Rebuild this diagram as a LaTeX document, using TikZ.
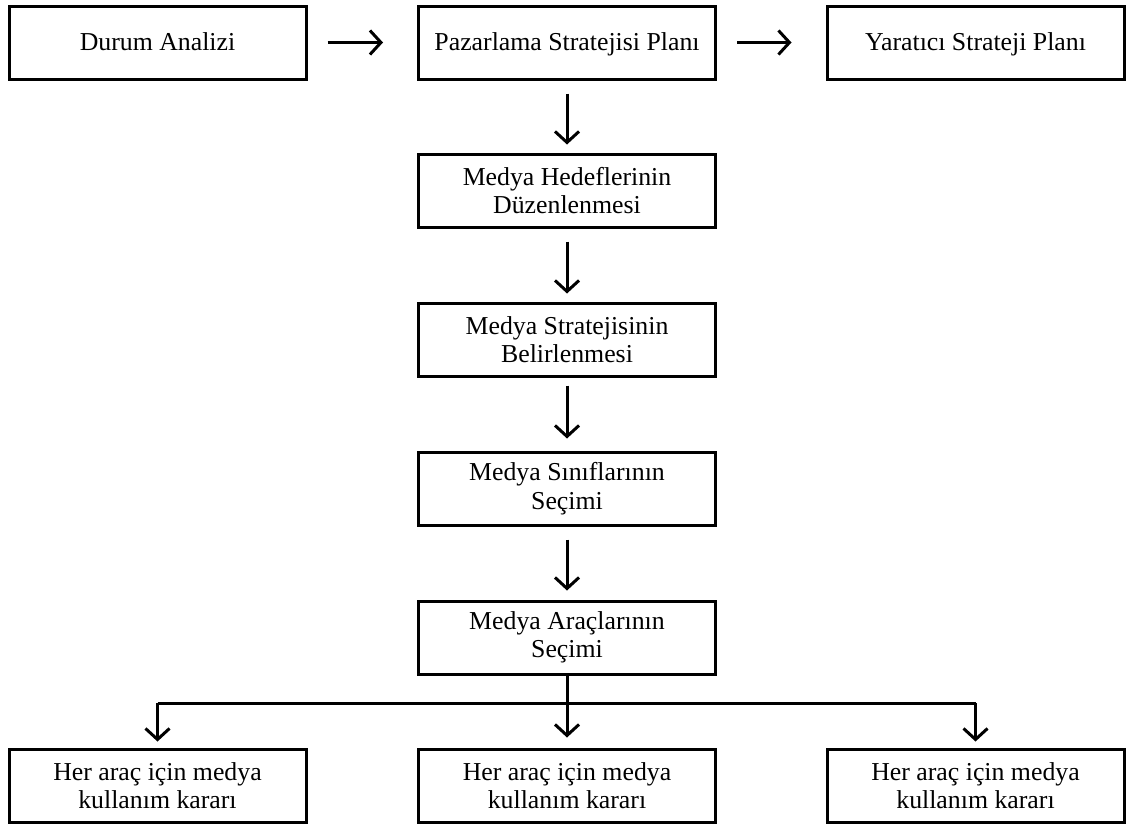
\documentclass[tikz,border=0pt]{standalone}
\usepackage{fontspec}
\setmainfont{Liberation Serif}
\usetikzlibrary{arrows.meta}
\tikzset{
  box/.style={draw, line width=3pt, minimum width=297pt, minimum height=73pt, align=center, inner sep=0pt,
    font=\fontsize{25.8pt}{28.5pt}\selectfont},
  onebox/.style={box, text height=19pt, text depth=4pt},
  arr/.style={line width=3pt, -{Straight Barb[length=11pt,width=24pt]}},
  ln/.style={line width=3pt}
}
\begin{document}
\begin{tikzpicture}[x=1pt,y=-1pt]
\useasboundingbox (0,0) rectangle (1126,827);
\node[onebox] (da) at (157.5,42.5) {Durum Analizi};
\node[onebox] (psp) at (567,42.5) {Pazarlama Stratejisi Planı};
\node[onebox] (ysp) at (975.5,42.5) {Yaratıcı Strateji Planı};
\node[box] (mh) at (567,190.5) {Medya Hedeflerinin\\Düzenlenmesi};
\node[box] (ms) at (567,339.5) {Medya Stratejisinin\\Belirlenmesi};
\node[box] (msc) at (567,488.5) {Medya Sınıflarının\\Seçimi};
\node[box] (ma) at (567,637.5) {Medya Araçlarının\\Seçimi};
\node[box] (b1) at (157.5,785.5) {Her araç için medya\\kullanım kararı};
\node[box] (b2) at (567,785.5) {Her araç için medya\\kullanım kararı};
\node[box] (b3) at (975.5,785.5) {Her araç için medya\\kullanım kararı};
\draw[arr, shorten <=20pt, shorten >=34pt] (da) -- (psp);
\draw[arr, shorten <=20pt, shorten >=34pt] (psp) -- (ysp);
\draw[arr, shorten <=13pt, shorten >=8pt] (psp) -- (mh);
\draw[arr, shorten <=13pt, shorten >=8pt] (mh) -- (ms);
\draw[arr, shorten <=8pt, shorten >=12pt] (ms) -- (msc);
\draw[arr, shorten <=13pt, shorten >=9pt] (msc) -- (ma);
\coordinate (bj) at (567,703);
\draw[ln] (ma) -- (bj);
\draw[ln] (bj -| b1) -- (bj -| b3);
\draw[arr, shorten >=6pt] (bj -| b1) -- (b1);
\draw[arr, shorten >=10pt] (bj) -- (b2);
\draw[arr, shorten >=6pt] (bj -| b3) -- (b3);
\end{tikzpicture}
\end{document}
